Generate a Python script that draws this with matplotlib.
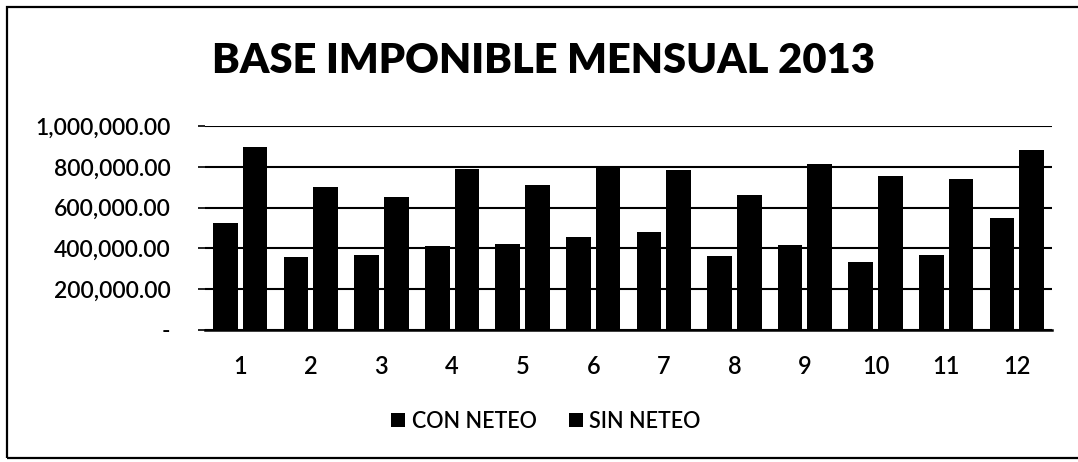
import matplotlib
matplotlib.use("Agg")
import matplotlib.pyplot as plt
from matplotlib.patches import Rectangle
from matplotlib.ticker import FuncFormatter
import numpy as np

months = ["1", "2", "3", "4", "5", "6", "7", "8", "9", "10", "11", "12"]
con_neteo = [525000, 360000, 370000, 410000, 420000, 455000, 480000, 365000, 415000, 335000, 370000, 550000]
sin_neteo = [895000, 700000, 650000, 790000, 710000, 795000, 785000, 660000, 815000, 755000, 740000, 880000]
series_names = ["CON NETEO", "SIN NETEO"]
title = "BASE IMPONIBLE MENSUAL 2013"
yticks = [0, 200000, 400000, 600000, 800000, 1000000]

plt.rcParams['font.family'] = ['Lato', 'DejaVu Sans']

fig = plt.figure(figsize=(10.78, 4.62), dpi=100)
W, H = 1078, 462

# outer frame (right edge lies outside the image)
fig.patches.append(Rectangle((7 / W, 1 - 458 / H), 1.2, (458 - 7) / H,
                             transform=fig.transFigure, fill=False,
                             edgecolor="black", linewidth=1.6))

ax = fig.add_axes([205 / W, 1 - 330 / H, (1052 - 205) / W, (330 - 126) / H])
x = np.arange(len(months))
bw = 0.35
off = 0.21
ax.bar(x - off, con_neteo, width=bw, color="black", label=series_names[0], zorder=3)
ax.bar(x + off, sin_neteo, width=bw, color="black", label=series_names[1], zorder=3)

ax.set_xlim(-0.5, len(months) - 0.5)
ax.set_ylim(0, 1000000)
ax.set_yticks(yticks)
ax.yaxis.set_major_formatter(FuncFormatter(lambda v, p: "-" if v == 0 else f"{v:,.2f}"))
ax.set_xticks(x)
ax.set_xticklabels(months)
ax.tick_params(axis="y", labelsize=16.5, length=5, width=1.2, color="black", pad=20)
ax.tick_params(axis="x", labelsize=17, length=0, pad=18)
for lbl in ax.get_yticklabels() + ax.get_xticklabels():
    lbl.set_fontweight("semibold")
ax.yaxis.grid(True, color="black", linewidth=1.5, zorder=1)
ax.set_axisbelow(True)
for s in ["left", "right", "top"]:
    ax.spines[s].set_visible(False)
ax.spines["bottom"].set_linewidth(1.8)
ax.spines["bottom"].set_color("black")

fig.text(544 / W, 1 - 61 / H, title, ha="center", va="center",
         fontsize=30, fontweight="heavy", color="black")

leg = fig.legend(loc="center", bbox_to_anchor=(546 / W, 1 - 421 / H), ncol=2,
                 frameon=False, handlelength=0.65, handleheight=0.65,
                 handletextpad=0.3, columnspacing=1.5,
                 prop={"size": 15.5, "weight": "semibold"})

fig.savefig("out.png", dpi=100)
